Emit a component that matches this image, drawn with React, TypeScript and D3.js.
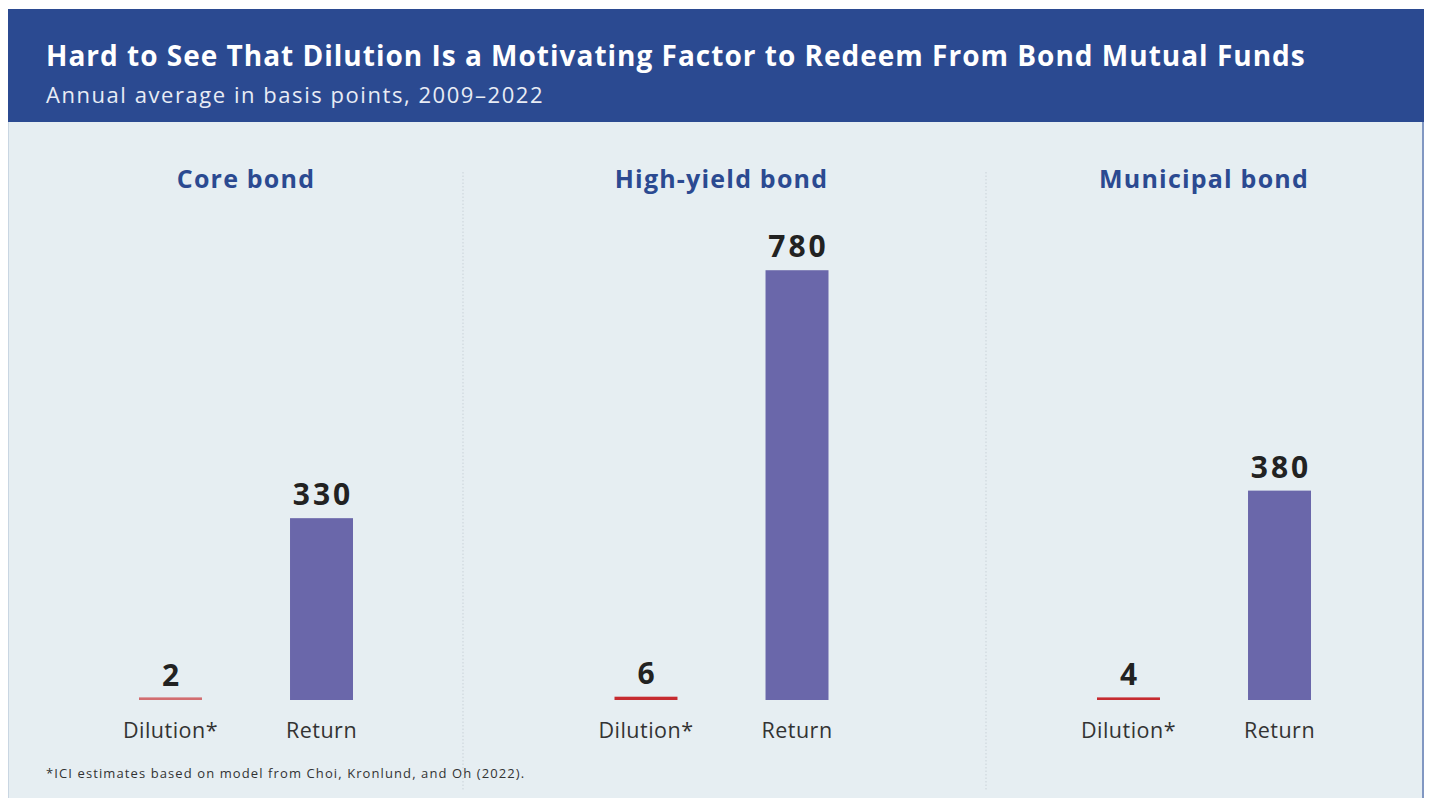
import React from "react";
import * as d3 from "d3";

const panels = ["Core bond", "High-yield bond", "Municipal bond"];
const seriesNames = ["Dilution*", "Return"];
const dilution = [2, 6, 4];
const returns = [330, 780, 380];

const W = 1429;
const H = 798;
const FONT = "'Open Sans', Lato, sans-serif";

export default function App() {
  const panelX = d3.scaleOrdinal<string, number>().domain(panels).range([246, 721.5, 1204]);
  const inner = d3
    .scaleBand<string>()
    .domain(seriesNames)
    .range([-107, 107])
    .paddingInner(0.583)
    .paddingOuter(0);
  const y = d3.scaleLinear().domain([0, 800]).range([700, 259.2]);
  const dividers = [463, 986];

  return (
    <svg
      width={W}
      height={H}
      style={{ position: "absolute", left: 0, top: 0, display: "block" }}
      fontFamily={FONT}
    >
      <rect x={0} y={0} width={W} height={H} fill="#ffffff" />
      <rect x={8} y={122} width={1416} height={H - 122} fill="#e6eef2" />
      <line x1={1423} x2={1423} y1={122} y2={H} stroke="#8197c2" strokeWidth={2} />
      <line x1={8.5} x2={8.5} y1={122} y2={H} stroke="#c9d6e2" strokeWidth={1} />
      <rect x={8} y={9} width={1416} height={113} fill="#2b4a91" />
      <text x={46} y={66} fill="#ffffff" fontSize={28} fontWeight={700} letterSpacing={1.0}>
        Hard to See That Dilution Is a Motivating Factor to Redeem From Bond Mutual Funds
      </text>
      <text x={46} y={103} fill="#e8ecf5" fontSize={22} fontWeight={400} letterSpacing={1.55}>
        Annual average in basis points, 2009–2022
      </text>

      {dividers.map((dx) => (
        <line
          key={dx}
          x1={dx}
          x2={dx}
          y1={172}
          y2={790}
          stroke="#c9d2d8"
          strokeWidth={1}
          strokeDasharray="1.5 2"
        />
      ))}

      {panels.map((p, i) => {
        const cx = panelX(p);
        const vals = [dilution[i], returns[i]];
        return (
          <g key={p}>
            <text
              x={cx}
              y={188}
              textAnchor="middle"
              fill="#2b4a91"
              fontSize={25}
              fontWeight={700}
              letterSpacing={1.2}
            >
              {p}
            </text>
            {seriesNames.map((s, j) => {
              const bx = cx + inner(s)!;
              const v = vals[j];
              const top = y(v);
              const h = y(0) - top;
              const isDil = j === 0;
              return (
                <g key={s}>
                  <rect
                    x={bx}
                    y={isDil ? y(0) - Math.max(h, 2.6) : top}
                    width={inner.bandwidth()}
                    height={isDil ? Math.max(h, 2.6) : h}
                    fill={isDil ? (v < 3 ? "#d26d70" : "#c62b30") : "#6a67aa"}
                  />
                  <text
                    x={bx + inner.bandwidth() / 2 + 1.5}
                    y={top - 13}
                    textAnchor="middle"
                    fill="#222222"
                    fontSize={30}
                    fontWeight={700}
                    letterSpacing={3}
                  >
                    {v}
                  </text>
                  <text
                    x={bx + inner.bandwidth() / 2}
                    y={738}
                    textAnchor="middle"
                    fill="#333333"
                    fontSize={21.5}
                    letterSpacing={0.5}
                  >
                    {s}
                  </text>
                </g>
              );
            })}
          </g>
        );
      })}

      <text x={46} y={778} fill="#333333" fontSize={13} letterSpacing={1.1}>
        *ICI estimates based on model from Choi, Kronlund, and Oh (2022).
      </text>
    </svg>
  );
}
